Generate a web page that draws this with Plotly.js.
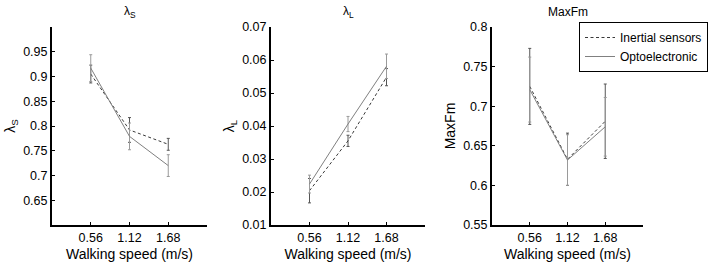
<!DOCTYPE html>
<html>
<head>
<meta charset="utf-8">
<script src="https://cdn.plot.ly/plotly-3.0.1.min.js"></script>
<style>html,body{margin:0;padding:0;background:#fff;}#chart{width:712px;height:262px;}</style>
</head>
<body>
<div id="chart"></div>
<script>
// Walking speeds (m/s)
const speeds = [0.56, 1.12, 1.68];
const speedLabels = ['0.56', '1.12', '1.68'];

// lambda_S
const lambdaS_inertial = [0.905, 0.792, 0.763];
const lambdaS_inertial_sd = [0.018, 0.025, 0.012];
const lambdaS_opto = [0.917, 0.779, 0.720];
const lambdaS_opto_sd = [0.027, 0.027, 0.022];

// lambda_L
const lambdaL_inertial = [0.0204, 0.0355, 0.0548];
const lambdaL_inertial_sd = [0.0037, 0.0017, 0.0026];
const lambdaL_opto = [0.0224, 0.0406, 0.0581];
const lambdaL_opto_sd = [0.0027, 0.0023, 0.0037];

// MaxFm
const maxFm_inertial = [0.725, 0.633, 0.681];
const maxFm_inertial_sd = [0.048, 0.033, 0.047];
const maxFm_opto = [0.721, 0.632, 0.674];
const maxFm_opto_sd = [0.041, 0.032, 0.037];

const seriesNames = ['Inertial sensors', 'Optoelectronic'];
const panelTitles = ['λ<sub>S</sub>', 'λ<sub>L</sub>', 'MaxFm'];
const yTitles = ['λ<sub>S</sub>', 'λ<sub>L</sub>', 'MaxFm'];
const yTicks = [
  [0.65, 0.7, 0.75, 0.8, 0.85, 0.9, 0.95],
  [0.01, 0.02, 0.03, 0.04, 0.05, 0.06, 0.07],
  [0.55, 0.6, 0.65, 0.7, 0.75, 0.8]
];
const yTickText = [
  ['0.65', '0.7', '0.75', '0.8', '0.85', '0.9', '0.95'],
  ['0.01', '0.02', '0.03', '0.04', '0.05', '0.06', '0.07'],
  ['0.55', '0.6', '0.65', '0.7', '0.75', '0.8']
];
const yRanges = [[0.6, 1.0], [0.01, 0.07], [0.55, 0.8]];
const xTitle = 'Walking speed (m/s)';

const W = 712, H = 262;
const FONT = 'Liberation Sans, Arial, sans-serif';
const panelsPx = [[52, 207], [271, 425], [492, 643]];
const yDom = [1 - 225 / H, 1 - 27 / H];

const data = [
  [lambdaS_inertial, lambdaS_inertial_sd, lambdaS_opto, lambdaS_opto_sd],
  [lambdaL_inertial, lambdaL_inertial_sd, lambdaL_opto, lambdaL_opto_sd],
  [maxFm_inertial, maxFm_inertial_sd, maxFm_opto, maxFm_opto_sd]
];

const traces = [];
data.forEach((d, i) => {
  const xa = i === 0 ? 'x' : 'x' + (i + 1);
  const ya = i === 0 ? 'y' : 'y' + (i + 1);
  traces.push({
    x: speeds, y: d[0], xaxis: xa, yaxis: ya, type: 'scatter', mode: 'lines',
    name: seriesNames[0], legendgroup: 'in', showlegend: i === 2,
    line: {color: '#3a3a3a', width: 1, dash: '3px,2.5px'},
    error_y: {type: 'data', array: d[1], visible: true, color: '#555555', thickness: 1, width: 1.5}
  });
  traces.push({
    x: speeds, y: d[2], xaxis: xa, yaxis: ya, type: 'scatter', mode: 'lines',
    name: seriesNames[1], legendgroup: 'op', showlegend: i === 2,
    line: {color: '#808080', width: 1},
    error_y: {type: 'data', array: d[3], visible: true, color: '#9a9a9a', thickness: 1, width: 1.5}
  });
});

const layout = {
  width: W, height: H,
  margin: {l: 0, r: 0, t: 0, b: 0},
  paper_bgcolor: '#ffffff', plot_bgcolor: '#ffffff',
  font: {family: FONT, color: '#000', size: 12.5},
  showlegend: true,
  legend: {
    x: 579 / W, y: 1 - 22 / H, xanchor: 'left', yanchor: 'top',
    bordercolor: '#000', borderwidth: 1, bgcolor: '#fff',
    font: {family: FONT, size: 12, color: '#000'},
    tracegroupgap: 0
  },
  annotations: []
};

panelsPx.forEach((p, i) => {
  const xk = i === 0 ? 'xaxis' : 'xaxis' + (i + 1);
  const yk = i === 0 ? 'yaxis' : 'yaxis' + (i + 1);
  const yref = i === 0 ? 'y' : 'y' + (i + 1);
  layout[xk] = {
    domain: [p[0] / W, p[1] / W], anchor: yref,
    range: [0, 2.24], tickmode: 'array', tickvals: speeds, ticktext: speedLabels,
    showline: true, linecolor: '#000', linewidth: 2, mirror: false,
    ticks: 'inside', ticklen: 3, tickcolor: '#000', tickwidth: 1,
    showgrid: false, zeroline: false,
    tickfont: {family: FONT, size: 12.5, color: '#000'},
    title: {text: xTitle, font: {family: FONT, size: 14, color: '#000'}, standoff: 5}
  };
  layout[yk] = {
    domain: yDom, anchor: i === 0 ? 'x' : 'x' + (i + 1),
    range: yRanges[i], tickmode: 'array', tickvals: yTicks[i], ticktext: yTickText[i],
    showline: true, linecolor: '#000', linewidth: 2, mirror: false,
    ticks: 'inside', ticklen: 3, tickcolor: '#000', tickwidth: 1,
    showgrid: false, zeroline: false,
    tickfont: {family: FONT, size: 12.5, color: '#000'},
    title: {text: yTitles[i], font: {family: FONT, size: 14, color: '#000'}, standoff: 4}
  };
  layout.annotations.push({
    text: panelTitles[i], xref: 'paper', yref: 'paper',
    x: (p[0] + p[1]) / 2 / W, y: 1 - 12 / H, xanchor: 'center', yanchor: 'middle',
    showarrow: false, font: {family: FONT, size: 12, color: '#000'}
  });
});

Plotly.newPlot('chart', traces, layout, {staticPlot: true, displayModeBar: false});
</script>
</body>
</html>
